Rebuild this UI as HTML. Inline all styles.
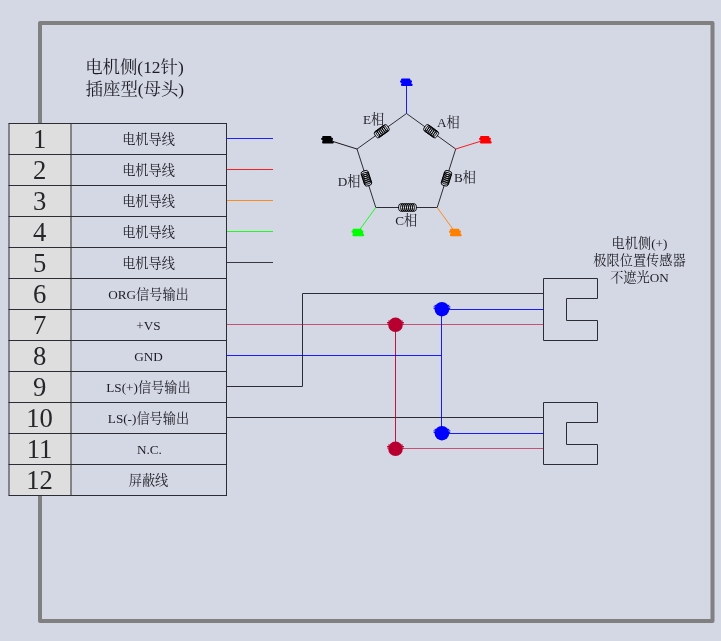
<!DOCTYPE html>
<html lang="zh-CN">
<head>
<meta charset="utf-8">
<title>电机侧(12针) 插座型(母头) 接线图</title>
<style>
html,body{margin:0;padding:0;background:#d4d7e4;}
body{width:721px;height:641px;overflow:hidden;position:relative;font-family:"Liberation Serif","Noto Serif CJK SC",serif;}
svg{position:absolute;left:0;top:0;display:block;will-change:transform;}
svg text{font-family:"Liberation Serif","Noto Serif CJK SC",serif;}
</style>
</head>
<body>
<svg width="721" height="641" viewBox="0 0 721 641">
<rect width="721" height="641" fill="#d4d7e4"/>
<path d="M40 123.5 V23 H712.5 V620.9 H40 V495.5" fill="none" stroke="#808080" stroke-width="4" stroke-linejoin="round"/>
<rect x="9.0" y="123.5" width="62.0" height="372.0" fill="#dedede"/>
<path d="M8.5 123.5H227.0M8.5 154.5H227.0M8.5 185.5H227.0M8.5 216.5H227.0M8.5 247.5H227.0M8.5 278.5H227.0M8.5 309.5H227.0M8.5 340.5H227.0M8.5 371.5H227.0M8.5 402.5H227.0M8.5 433.5H227.0M8.5 464.5H227.0M8.5 495.5H227.0M9.0 123.5V495.5M71.0 123.5V495.5M226.5 123.5V495.5" fill="none" stroke="#2c2c33" stroke-width="1"/>
<path d="M227.0 138.5H273" stroke="#0000ff" stroke-width="1" stroke-opacity="0.85" fill="none"/>
<path d="M227.0 169.5H273" stroke="#ff0000" stroke-width="1" stroke-opacity="0.85" fill="none"/>
<path d="M227.0 200.5H273" stroke="#ff8000" stroke-width="1" stroke-opacity="0.85" fill="none"/>
<path d="M227.0 231.5H273" stroke="#00ff00" stroke-width="1" stroke-opacity="0.85" fill="none"/>
<path d="M227.0 262.5H273" stroke="#1c1c22" stroke-width="1" stroke-opacity="0.85" fill="none"/>
<path d="M543.5 278.5H597.5V298.5H566.5V320.5H597.5V340.5H543.5ZM543.5 402.5H597.5V422.5H566.5V444.5H597.5V464.5H543.5Z" fill="none" stroke="#2c2c33" stroke-width="1" stroke-linejoin="miter"/>
<path d="M226.5 386.5H302.5V293.5H543.5M226.5 417.5H543.5" fill="none" stroke="#2c2c33" stroke-width="1"/>
<path d="M226.5 324.5H543.5M395.5 448.5H543.5" fill="none" stroke="#b80030" stroke-width="1" stroke-opacity="0.62"/>
<path d="M395.5 324.5V448.5" fill="none" stroke="#b80030" stroke-width="1" stroke-opacity="0.9"/>
<path d="M226.5 355.5H441.5M441.5 309.5V433.5M441.5 309.5H543.5M441.5 433.5H543.5" fill="none" stroke="#0000ff" stroke-width="1" stroke-opacity="0.88"/>
<circle cx="395.5" cy="324.8" r="7.3" fill="#b80030"/><path d="M389.77 321.00h-1.60M389.07 322.50h-2.00M388.74 324.00h-1.50M401.23 321.00h1.60M401.93 322.50h2.00M402.26 324.00h1.50" stroke="#b80030" stroke-width="1" fill="none"/>
<circle cx="395.5" cy="448.8" r="7.3" fill="#b80030"/><path d="M389.77 445.00h-1.60M389.07 446.50h-2.00M388.74 448.00h-1.50M401.23 445.00h1.60M401.93 446.50h2.00M402.26 448.00h1.50" stroke="#b80030" stroke-width="1" fill="none"/>
<circle cx="441.9" cy="309.2" r="7.3" fill="#0000ff"/><path d="M436.17 305.40h-1.60M435.47 306.90h-2.00M435.14 308.40h-1.50M447.63 305.40h1.60M448.33 306.90h2.00M448.66 308.40h1.50" stroke="#0000ff" stroke-width="1" fill="none"/>
<circle cx="441.9" cy="433.2" r="7.3" fill="#0000ff"/><path d="M436.17 429.40h-1.60M435.47 430.90h-2.00M435.14 432.40h-1.50M447.63 429.40h1.60M448.33 430.90h2.00M448.66 432.40h1.50" stroke="#0000ff" stroke-width="1" fill="none"/>
<path d="M406.5 113.5L455.7 149.0L437.2 207.5L375.8 207.5L357.0 149.0Z" fill="none" stroke="#2c2c33" stroke-width="1" stroke-linejoin="round"/>
<g transform="translate(431.10 131.25) rotate(35.81)"><rect x="-7.25" y="-1.2" width="14.50" height="2.4" fill="#d4d7e4"/><ellipse cx="-5.85" cy="0" rx="2.0" ry="3.7" fill="none" stroke="#000" stroke-width="0.85"/><ellipse cx="-3.90" cy="0" rx="2.0" ry="3.7" fill="none" stroke="#000" stroke-width="0.85"/><ellipse cx="-1.95" cy="0" rx="2.0" ry="3.7" fill="none" stroke="#000" stroke-width="0.85"/><ellipse cx="0.00" cy="0" rx="2.0" ry="3.7" fill="none" stroke="#000" stroke-width="0.85"/><ellipse cx="1.95" cy="0" rx="2.0" ry="3.7" fill="none" stroke="#000" stroke-width="0.85"/><ellipse cx="3.90" cy="0" rx="2.0" ry="3.7" fill="none" stroke="#000" stroke-width="0.85"/><ellipse cx="5.85" cy="0" rx="2.0" ry="3.7" fill="none" stroke="#000" stroke-width="0.85"/><path d="M-5.25 -3.7H5.25M-5.25 3.7H5.25" stroke="#000" stroke-width="0.9" stroke-linecap="round" fill="none"/></g>
<g transform="translate(446.45 178.25) rotate(107.55)"><rect x="-7.25" y="-1.2" width="14.50" height="2.4" fill="#d4d7e4"/><ellipse cx="-5.85" cy="0" rx="2.0" ry="3.7" fill="none" stroke="#000" stroke-width="0.85"/><ellipse cx="-3.90" cy="0" rx="2.0" ry="3.7" fill="none" stroke="#000" stroke-width="0.85"/><ellipse cx="-1.95" cy="0" rx="2.0" ry="3.7" fill="none" stroke="#000" stroke-width="0.85"/><ellipse cx="0.00" cy="0" rx="2.0" ry="3.7" fill="none" stroke="#000" stroke-width="0.85"/><ellipse cx="1.95" cy="0" rx="2.0" ry="3.7" fill="none" stroke="#000" stroke-width="0.85"/><ellipse cx="3.90" cy="0" rx="2.0" ry="3.7" fill="none" stroke="#000" stroke-width="0.85"/><ellipse cx="5.85" cy="0" rx="2.0" ry="3.7" fill="none" stroke="#000" stroke-width="0.85"/><path d="M-5.25 -3.7H5.25M-5.25 3.7H5.25" stroke="#000" stroke-width="0.9" stroke-linecap="round" fill="none"/></g>
<g transform="translate(366.40 178.25) rotate(-107.82)"><rect x="-7.25" y="-1.2" width="14.50" height="2.4" fill="#d4d7e4"/><ellipse cx="-5.85" cy="0" rx="2.0" ry="3.7" fill="none" stroke="#000" stroke-width="0.85"/><ellipse cx="-3.90" cy="0" rx="2.0" ry="3.7" fill="none" stroke="#000" stroke-width="0.85"/><ellipse cx="-1.95" cy="0" rx="2.0" ry="3.7" fill="none" stroke="#000" stroke-width="0.85"/><ellipse cx="0.00" cy="0" rx="2.0" ry="3.7" fill="none" stroke="#000" stroke-width="0.85"/><ellipse cx="1.95" cy="0" rx="2.0" ry="3.7" fill="none" stroke="#000" stroke-width="0.85"/><ellipse cx="3.90" cy="0" rx="2.0" ry="3.7" fill="none" stroke="#000" stroke-width="0.85"/><ellipse cx="5.85" cy="0" rx="2.0" ry="3.7" fill="none" stroke="#000" stroke-width="0.85"/><path d="M-5.25 -3.7H5.25M-5.25 3.7H5.25" stroke="#000" stroke-width="0.9" stroke-linecap="round" fill="none"/></g>
<g transform="translate(381.75 131.25) rotate(-35.65)"><rect x="-7.25" y="-1.2" width="14.50" height="2.4" fill="#d4d7e4"/><ellipse cx="-5.85" cy="0" rx="2.0" ry="3.7" fill="none" stroke="#000" stroke-width="0.85"/><ellipse cx="-3.90" cy="0" rx="2.0" ry="3.7" fill="none" stroke="#000" stroke-width="0.85"/><ellipse cx="-1.95" cy="0" rx="2.0" ry="3.7" fill="none" stroke="#000" stroke-width="0.85"/><ellipse cx="0.00" cy="0" rx="2.0" ry="3.7" fill="none" stroke="#000" stroke-width="0.85"/><ellipse cx="1.95" cy="0" rx="2.0" ry="3.7" fill="none" stroke="#000" stroke-width="0.85"/><ellipse cx="3.90" cy="0" rx="2.0" ry="3.7" fill="none" stroke="#000" stroke-width="0.85"/><ellipse cx="5.85" cy="0" rx="2.0" ry="3.7" fill="none" stroke="#000" stroke-width="0.85"/><path d="M-5.25 -3.7H5.25M-5.25 3.7H5.25" stroke="#000" stroke-width="0.9" stroke-linecap="round" fill="none"/></g>
<g transform="translate(407.50 207.50) rotate(0.00)"><rect x="-8.40" y="-1.2" width="16.80" height="2.4" fill="#d4d7e4"/><ellipse cx="-7.00" cy="0" rx="2.0" ry="3.7" fill="none" stroke="#000" stroke-width="0.85"/><ellipse cx="-5.00" cy="0" rx="2.0" ry="3.7" fill="none" stroke="#000" stroke-width="0.85"/><ellipse cx="-3.00" cy="0" rx="2.0" ry="3.7" fill="none" stroke="#000" stroke-width="0.85"/><ellipse cx="-1.00" cy="0" rx="2.0" ry="3.7" fill="none" stroke="#000" stroke-width="0.85"/><ellipse cx="1.00" cy="0" rx="2.0" ry="3.7" fill="none" stroke="#000" stroke-width="0.85"/><ellipse cx="3.00" cy="0" rx="2.0" ry="3.7" fill="none" stroke="#000" stroke-width="0.85"/><ellipse cx="5.00" cy="0" rx="2.0" ry="3.7" fill="none" stroke="#000" stroke-width="0.85"/><ellipse cx="7.00" cy="0" rx="2.0" ry="3.7" fill="none" stroke="#000" stroke-width="0.85"/><path d="M-6.40 -3.7H6.40M-6.40 3.7H6.40" stroke="#000" stroke-width="0.9" stroke-linecap="round" fill="none"/></g>
<path d="M406.5 113.5L406.5 85.5" stroke="#0000ff" stroke-width="1" stroke-opacity="0.88" fill="none"/>
<path d="M402.20 79.75h7.0M401.20 81.45h9.6M402.50 83.15h8.0M402.10 84.85h9.4" stroke="#0000ff" stroke-width="2.4" stroke-linecap="round" fill="none"/>
<path d="M455.7 149.0L480.5 141.3" stroke="#ff0000" stroke-width="1" stroke-opacity="0.88" fill="none"/>
<path d="M481.20 137.15h7.0M480.20 138.85h9.6M481.50 140.55h8.0M481.10 142.25h9.4" stroke="#ff0000" stroke-width="2.4" stroke-linecap="round" fill="none"/>
<path d="M437.2 207.5L452.8 229.0" stroke="#ff8000" stroke-width="1" stroke-opacity="0.88" fill="none"/>
<path d="M451.20 229.95h7.0M450.20 231.65h9.6M451.50 233.35h8.0M451.10 235.05h9.4" stroke="#ff8000" stroke-width="2.4" stroke-linecap="round" fill="none"/>
<path d="M375.8 207.5L360.2 229.0" stroke="#00ff00" stroke-width="1" stroke-opacity="0.88" fill="none"/>
<path d="M353.70 229.95h7.0M352.70 231.65h9.6M354.00 233.35h8.0M353.60 235.05h9.4" stroke="#00ff00" stroke-width="2.4" stroke-linecap="round" fill="none"/>
<path d="M357.0 149.0L333.0 141.5" stroke="#000" stroke-width="1" stroke-opacity="0.88" fill="none"/>
<path d="M323.30 137.15h7.0M322.30 138.85h9.6M323.60 140.55h8.0M323.20 142.25h9.4" stroke="#000" stroke-width="2.4" stroke-linecap="round" fill="none"/>
<g fill="#1c1c22">
<text x="85.2" y="73.3" font-size="17.4">电机侧(12针)</text>
<text x="85.6" y="95.3" font-size="17.4">插座型(母头)</text>
<text x="148.5" y="143.9" font-size="13.2" text-anchor="middle">电机导线</text>
<text x="148.5" y="174.9" font-size="13.2" text-anchor="middle">电机导线</text>
<text x="148.5" y="205.9" font-size="13.2" text-anchor="middle">电机导线</text>
<text x="148.5" y="236.9" font-size="13.2" text-anchor="middle">电机导线</text>
<text x="148.5" y="267.9" font-size="13.2" text-anchor="middle">电机导线</text>
<text x="148.5" y="298.9" font-size="13.2" text-anchor="middle">ORG信号输出</text>
<text x="148.5" y="329.9" font-size="13.2" text-anchor="middle">+VS</text>
<text x="148.5" y="360.9" font-size="13.2" text-anchor="middle">GND</text>
<text x="148.5" y="391.9" font-size="13.2" text-anchor="middle">LS(+)信号输出</text>
<text x="148.5" y="422.9" font-size="13.2" text-anchor="middle">LS(-)信号输出</text>
<text x="149.4" y="453.9" font-size="13.2" text-anchor="middle">N.C.</text>
<text x="148.5" y="484.9" font-size="13.2" text-anchor="middle">屏蔽线</text>
<text x="373.6" y="123.5" font-size="13.2" text-anchor="middle">E相</text>
<text x="448.4" y="126.6" font-size="13.2" text-anchor="middle">A相</text>
<text x="464.9" y="181.8" font-size="13.2" text-anchor="middle">B相</text>
<text x="406.2" y="224.6" font-size="13.2" text-anchor="middle">C相</text>
<text x="349.2" y="186.4" font-size="13.2" text-anchor="middle">D相</text>
<text x="639.5" y="248.3" font-size="13.2" text-anchor="middle">电机侧(+)</text>
<text x="639.5" y="264.8" font-size="13.2" text-anchor="middle">极限位置传感器</text>
<text x="639.5" y="281.5" font-size="13.2" text-anchor="middle">不遮光ON</text>
</g>
<g>
<text x="39.60" y="148.00" font-size="26.67" text-anchor="middle" fill="#26262a">1</text>
<text x="39.60" y="179.00" font-size="26.67" text-anchor="middle" fill="#26262a">2</text>
<text x="39.60" y="210.00" font-size="26.67" text-anchor="middle" fill="#26262a">3</text>
<text x="39.60" y="241.00" font-size="26.67" text-anchor="middle" fill="#26262a">4</text>
<text x="39.60" y="272.00" font-size="26.67" text-anchor="middle" fill="#26262a">5</text>
<text x="39.60" y="303.00" font-size="26.67" text-anchor="middle" fill="#26262a">6</text>
<text x="39.60" y="334.00" font-size="26.67" text-anchor="middle" fill="#26262a">7</text>
<text x="39.60" y="365.00" font-size="26.67" text-anchor="middle" fill="#26262a">8</text>
<text x="39.60" y="396.00" font-size="26.67" text-anchor="middle" fill="#26262a">9</text>
<text x="39.60" y="427.00" font-size="26.67" text-anchor="middle" fill="#26262a">10</text>
<text x="39.60" y="458.00" font-size="26.67" text-anchor="middle" fill="#26262a">11</text>
<text x="39.60" y="489.00" font-size="26.67" text-anchor="middle" fill="#26262a">12</text>
</g>
</svg>
</body>
</html>
